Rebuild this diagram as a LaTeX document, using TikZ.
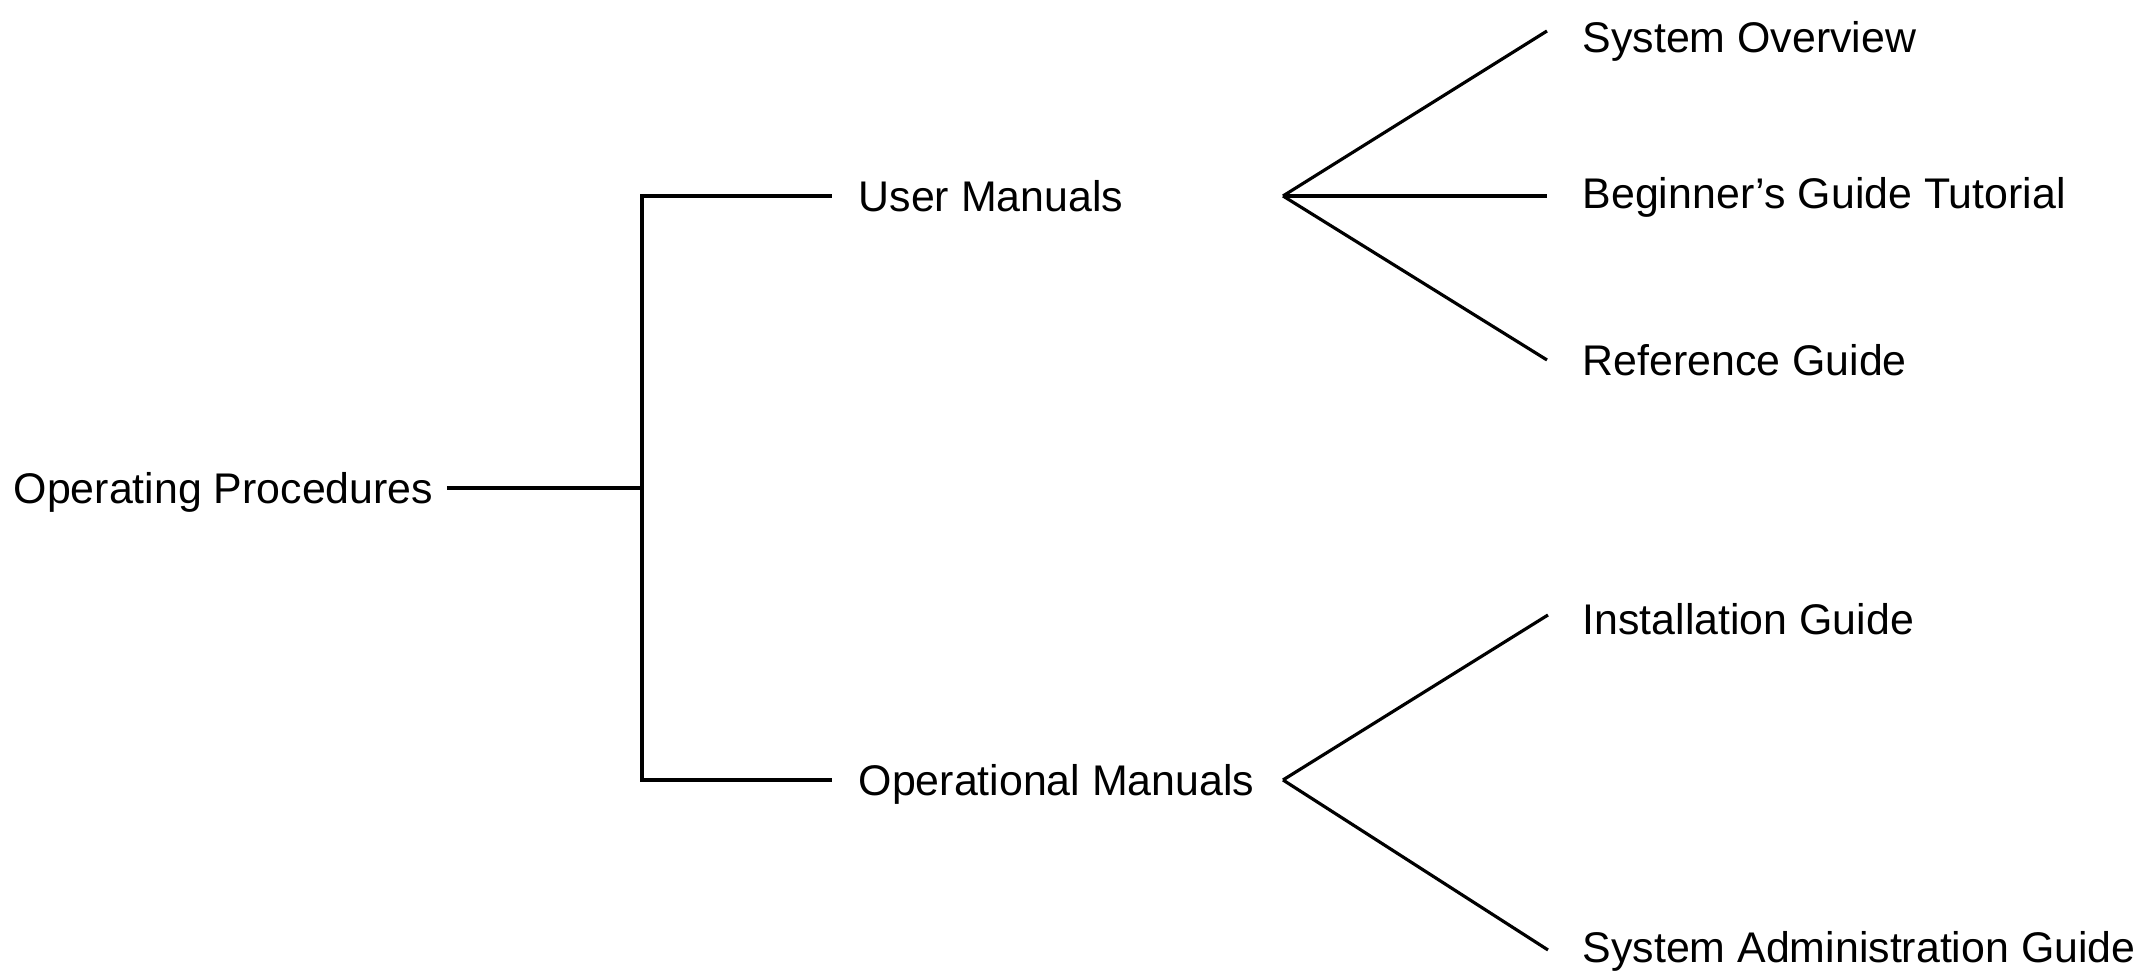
\documentclass[tikz,border=0pt]{standalone}
\usepackage{fontspec}
\setmainfont{Liberation Sans}
\usepackage{tkz-euclide}

\tikzset{
  lbl/.style={anchor=west, inner sep=0pt, text height=8.8pt, text depth=0pt,
    font=\fontsize{12.2}{14}\selectfont},
  link/.style={line width=0.9pt},
  arm/.style={link, shorten >=0.26cm},
}

\begin{document}
\begin{tikzpicture}
    \useasboundingbox (0,0) rectangle (21.49,9.71);
    \tkzDefPoint(6.42,4.83){j}
    \tkzDefPoint(12.83,7.75){u}
    \tkzDefPoint(12.83,1.91){o}
    % labels
    \node[lbl] (op)  at (0.13,4.83)  {Operating Procedures};
    \node[lbl] (um)  at (8.58,7.75)  {User Manuals};
    \node[lbl] (om)  at (8.58,1.91)  {Operational Manuals};
    \node[lbl] (so)  at (15.82,9.34) {System Overview};
    \node[lbl] (bgt) at (15.82,7.78) {Beginner's Guide Tutorial};
    \node[lbl] (rg)  at (15.82,6.11) {Reference Guide};
    \node[lbl] (ig)  at (15.82,3.52) {Installation Guide};
    \node[lbl] (sag) at (15.82,0.24) {System Administration Guide};
    % tree
    \draw[link, shorten <=0.13cm] (op.east) -- (j);
    \draw[arm] (j) |- (um.west);
    \draw[arm] (j) |- (om.west);
    \draw[link] (u) -- ([shift={(-0.35,0.06)}]so.west);
    \draw[link] (u) -- ([shift={(-0.35,-0.03)}]bgt.west);
    \draw[link] (u) -- ([shift={(-0.35,0)}]rg.west);
    \draw[link] (o) -- ([shift={(-0.34,0.04)}]ig.west);
    \draw[link] (o) -- ([shift={(-0.34,-0.03)}]sag.west);
\end{tikzpicture}
\end{document}
